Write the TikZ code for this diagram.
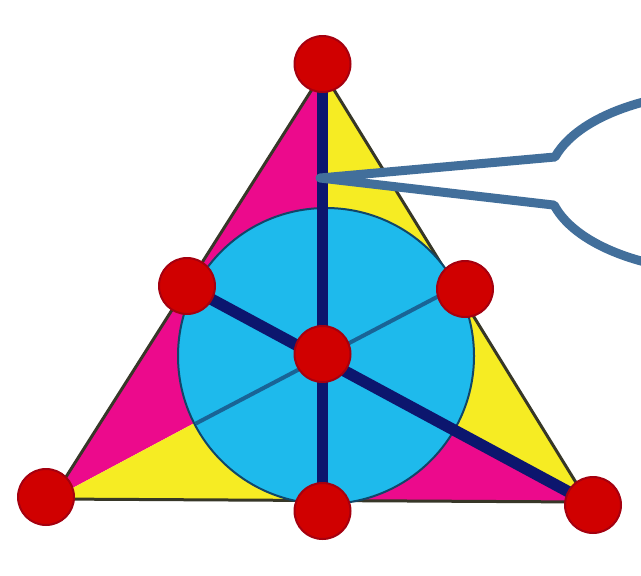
\documentclass[tikz,border=0pt]{standalone}
\definecolor{mag}{RGB}{236,10,140}
\definecolor{yel}{RGB}{246,236,35}
\definecolor{cya}{RGB}{30,186,236}
\definecolor{navy}{RGB}{12,22,110}
\definecolor{thinblue}{RGB}{25,100,150}
\definecolor{dotred}{RGB}{208,0,0}
\definecolor{dotedge}{RGB}{165,0,15}
\definecolor{callblue}{RGB}{66,111,155}
\definecolor{edgegray}{RGB}{55,55,40}
\tikzset{
  dotnode/.style={circle,fill=dotred,draw=dotedge,line width=0.04cm,minimum size=1.12cm,inner sep=0pt},
  thickline/.style={navy,line width=0.23cm},
  thinline/.style={thinblue,line width=0.08cm},
  calloutline/.style={draw=callblue,fill=white,line width=0.18cm,line join=round}
}
\begin{document}
\begin{tikzpicture}[x=0.02cm,y=-0.02cm]
\useasboundingbox (0,0) rectangle (641,575);
\clip (0,0) rectangle (641,575);
\fill[white] (0,0) rectangle (641,575);
% key points
\coordinate (A) at (323,72);
\coordinate (B) at (52,499);
\coordinate (C) at (588,502);
\coordinate (mAB) at (187,286);
\coordinate (mAC) at (456,287);
\coordinate (mBC) at (322,501);
\coordinate (G) at (322,355);
% six regions
\fill[mag] (A) -- (mAB) -- (G) -- cycle;
\fill[yel] (A) -- (mAC) -- (G) -- cycle;
\fill[mag] (B) -- (mAB) -- (G) -- cycle;
\fill[yel] (B) -- (mBC) -- (G) -- cycle;
\fill[mag] (C) -- (mBC) -- (G) -- cycle;
\fill[yel] (C) -- (mAC) -- (G) -- cycle;
\draw[edgegray,line width=0.06cm,line join=round] (A) -- (B) -- (C) -- cycle;
% circle
\coordinate (O) at (326,356);
\draw[fill=cya,draw=thinblue!70!black,line width=0.04cm] (O) circle[radius=148];
\begin{scope}
  \clip (O) circle[radius=147];
  \draw[thinline] (B) -- (mAC);
\end{scope}
% dots positions
\coordinate (pTop) at (322.5,64);
\coordinate (pBL) at (46,497);
\coordinate (pBR) at (593,505);
\coordinate (pBM) at (322.5,511);
\coordinate (pLM) at (187,286);
\coordinate (pRM) at (465,289);
\coordinate (pC) at (322.5,354);
% thick medians
\draw[thickline] (pTop) -- (pBM);
\draw[thickline] (pLM) -- (pBR);
% dots
\node[dotnode] (top) at (pTop) {};
\node[dotnode] (bl) at (pBL) {};
\node[dotnode] (br) at (pBR) {};
\node[dotnode] (bm) at (pBM) {};
\node[dotnode] (lm) at (pLM) {};
\node[dotnode] (rm) at (pRM) {};
\node[dotnode] (ctr) at (pC) {};
% callout
\coordinate (tip) at (320,178);
\coordinate (uj) at (555,157);
\draw[calloutline] (tip) -- (uj) arc[start angle=196,end angle=525,x radius=177,y radius=90] -- cycle;
\end{tikzpicture}
\end{document}
